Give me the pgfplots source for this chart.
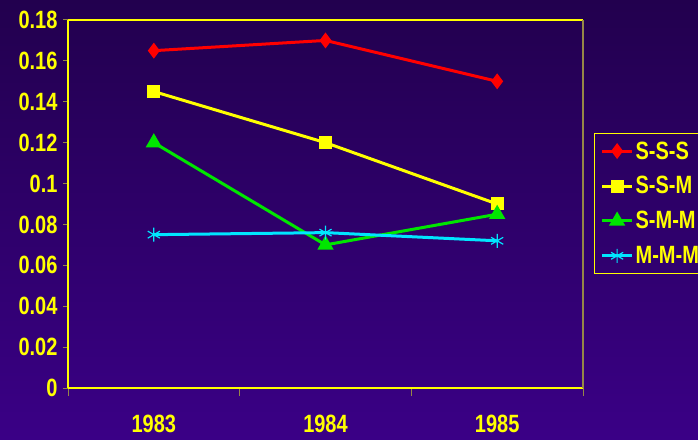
\documentclass[border=0pt]{standalone}
\usepackage{fontspec}
\setmainfont{Liberation Sans}[FakeStretch=0.8]
\usepackage{pgfplots}
\pgfplotsset{compat=1.18}
\definecolor{bgtop}{RGB}{34,0,78}
\definecolor{bgbot}{RGB}{58,0,134}
\definecolor{axyel}{RGB}{255,255,0}
\definecolor{tickol}{RGB}{150,135,70}
\definecolor{sss}{RGB}{255,0,0}
\definecolor{ssm}{RGB}{255,255,0}
\definecolor{smm}{RGB}{0,230,0}
\definecolor{mmm}{RGB}{0,230,255}
\begin{document}
\begin{tikzpicture}
\shade[top color=bgtop, bottom color=bgbot] (0pt,0pt) rectangle (698pt,439pt);
\begin{axis}[
    at={(68pt,51pt)}, anchor=south west,
    scale only axis, width=515pt, height=368pt,
    xmin=0.5, xmax=3.5, ymin=0, ymax=0.18,
    axis line style={axyel, line width=1.2pt},
    axis x line*=bottom, axis y line*=left,
    xtick={1,2,3}, xticklabels={1983,1984,1985},
    major x tick style={draw=none},
    minor xtick={0.5,1.5,2.5,3.5},
    minor x tick style={tickol, line width=1pt},
    minor tick length=8pt,
    ytick={0,0.02,...,0.18},
    yticklabels={0,0.02,0.04,0.06,0.08,0.1,0.12,0.14,0.16,0.18},
    y tick style={tickol, line width=1pt},
    major tick length=5pt,
    tick align=outside,
    tick label style={font=\fontsize{25}{27}\selectfont\bfseries, text=axyel},
    xticklabel style={yshift=-19pt},
    yticklabel style={xshift=-2pt},
    legend style={at={(rel axis cs:1.0214,0.693)}, anchor=north west,
        fill=none, draw=axyel, line width=1.2pt, overlay,
        font=\fontsize{25}{27}\selectfont\bfseries, text=axyel,
        row sep=12pt, inner xsep=6pt, inner ysep=6pt},
    legend cell align=left,
    legend image code/.code={
        \draw[mark repeat=2,mark phase=2,#1] plot coordinates {(0pt,0pt) (15pt,0pt) (30pt,0pt)};},
    clip=false,
]
\draw[axyel, line width=1.2pt] (rel axis cs:0,1) -- (rel axis cs:1,1);
\draw[tickol, line width=1.5pt] (rel axis cs:1,0) -- (rel axis cs:1,1);
\addplot[sss, line width=3pt, mark=diamond*, mark size=5.5pt] coordinates {(1,0.165) (2,0.170) (3,0.150)};
\addplot[ssm, line width=3pt, mark=square*, mark size=5pt] coordinates {(1,0.145) (2,0.120) (3,0.090)};
\addplot[smm, line width=3pt, mark=triangle*, mark size=6.5pt] coordinates {(1,0.120) (2,0.070) (3,0.085)};
\addplot[mmm, line width=3pt, mark=asterisk, mark size=7pt, mark options={line width=1.2pt}] coordinates {(1,0.075) (2,0.076) (3,0.072)};
\legend{S-S-S,S-S-M,S-M-M,M-M-M}
\end{axis}
\end{tikzpicture}
\end{document}
